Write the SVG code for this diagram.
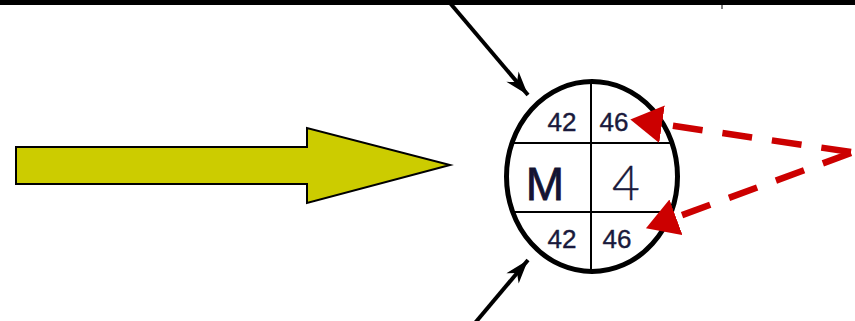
<svg xmlns="http://www.w3.org/2000/svg" width="855" height="321" viewBox="0 0 855 321">
  <style>
    .num { font-family: "Liberation Sans", Arial, sans-serif; font-size: 26px; fill: #1a1a3c; stroke: #1a1a3c; stroke-width: 0.4; text-anchor: middle; }
    .big { font-family: "Liberation Sans", Arial, sans-serif; font-size: 46px; fill: #141432; stroke: #141432; stroke-width: 0.8; text-anchor: middle; }
    .thin { font-family: "Lato", "Open Sans", sans-serif; font-weight: 300; font-size: 48px; fill: #1a1a3c; stroke: #1a1a3c; stroke-width: 0.3; text-anchor: middle; }
    .div { stroke: #000; stroke-width: 2; fill: none; }
    .blk { stroke: #000; stroke-width: 4; fill: none; }
    .red { stroke: #cc0000; stroke-width: 6.5; fill: none; stroke-dasharray: 30 20; }
  </style>
  <defs>
    <marker id="redHead" markerUnits="userSpaceOnUse" viewBox="0 0 32 38" refX="0" refY="19" markerWidth="32" markerHeight="38" orient="auto">
      <path d="M0,0 L32,19 L0,38 z" fill="#cc0000"/>
    </marker>
    <marker id="blkHead" markerUnits="userSpaceOnUse" viewBox="-26 -10 28 20" refX="0" refY="0" markerWidth="28" markerHeight="20" orient="auto">
      <path d="M0,0 L-24,-8 L-17,0 L-24,8 z" fill="#000"/>
    </marker>
  </defs>

  <rect x="0" y="0" width="855" height="5" fill="#000"/>
  <line x1="722" y1="4" x2="722" y2="9" stroke="#000" stroke-width="1"/>

  <g id="yellow-arrow">
    <polygon points="16,147 307,147 307,128 450,165 307,203 307,184 16,184" fill="#cccc00" stroke="#000" stroke-width="2"/>
  </g>

  <g id="node">
    <ellipse cx="592" cy="176.5" rx="85.5" ry="95" fill="#fff" stroke="#000" stroke-width="5"/>
    <line class="div" x1="591" y1="81" x2="591" y2="272"/>
    <line class="div" x1="512" y1="143" x2="672" y2="143"/>
    <line class="div" x1="513" y1="212" x2="671" y2="212"/>
    <text class="num" x="562" y="131">42</text>
    <text class="num" x="614" y="131">46</text>
    <text class="big" x="545" y="200">M</text>
    <text class="thin" x="626" y="200">4</text>
    <text class="num" x="562" y="248">42</text>
    <text class="num" x="617" y="248">46</text>
  </g>

  <g id="connectors">
    <line class="blk" x1="450" y1="3" x2="528" y2="95" marker-end="url(#blkHead)"/>
    <line class="blk" x1="475" y1="323" x2="528" y2="260" marker-end="url(#blkHead)"/>
    <line class="red" x1="851" y1="152" x2="662" y2="124.2" marker-end="url(#redHead)"/>
    <line class="red" x1="851" y1="153" x2="676" y2="217.3" marker-end="url(#redHead)"/>
  </g>
</svg>
